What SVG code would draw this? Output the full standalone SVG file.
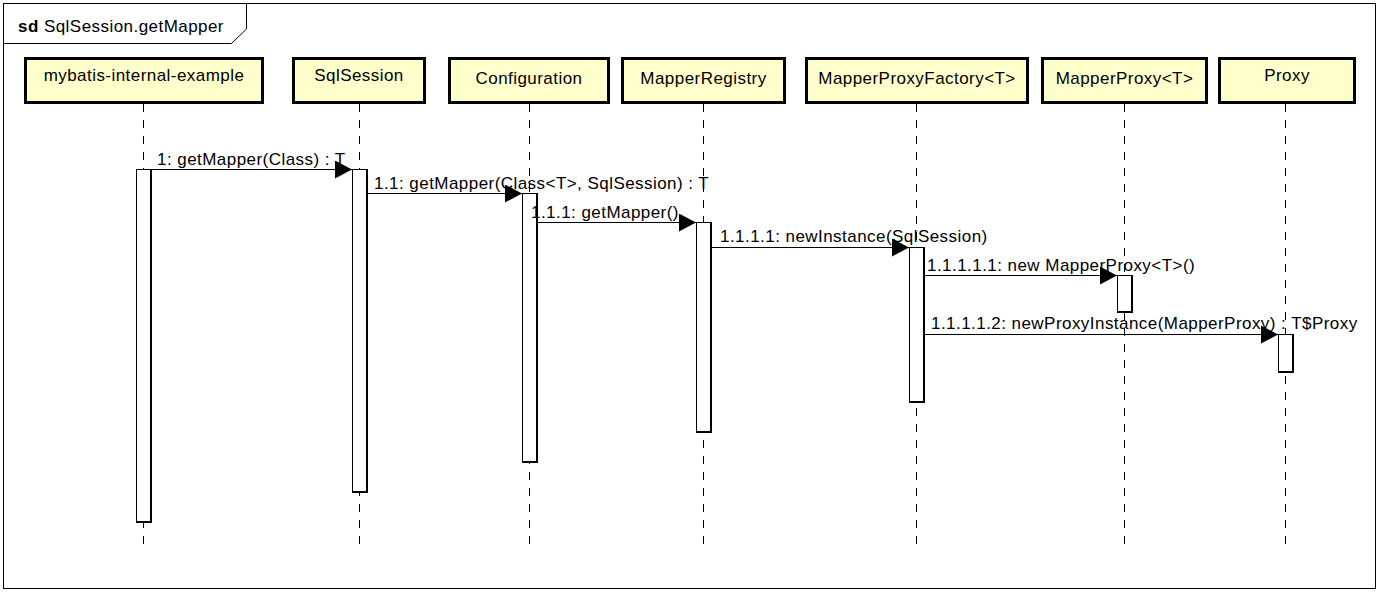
<svg xmlns="http://www.w3.org/2000/svg" width="1379" height="592" viewBox="0 0 1379 592">
<style>
text{font-family:"Liberation Sans",Arial,sans-serif;font-size:17px;letter-spacing:0.45px;fill:#000}
.head{fill:#FFFFCC;stroke:#000;stroke-width:3}
.life{stroke:#000;stroke-width:1;stroke-dasharray:8,8;fill:none}
.act{fill:#fff;stroke:#000;stroke-width:1}
.actsh{fill:none;stroke:#000;stroke-width:2}
.msg{stroke:#000;stroke-width:1;fill:none}
.lbl{text-anchor:middle}
</style>
<defs>
<marker id="arr" markerUnits="userSpaceOnUse" markerWidth="18" markerHeight="18" refX="17" refY="9" orient="auto">
<polygon points="0,0 17,9 0,18" fill="#000"/>
</marker>
</defs>
<rect x="0" y="0" width="1379" height="592" fill="#fff"/>
<g id="frame">
<rect x="3.5" y="3.5" width="1372" height="585" fill="none" stroke="#000" stroke-width="1"/>
<path d="M3.5,43.5 H231.5 L246.5,29 V3.5" fill="none" stroke="#000" stroke-width="1"/>
<text x="18" y="32"><tspan font-weight="bold">sd</tspan> SqlSession.getMapper</text>
</g>
<g id="lifelines">
<line class="life" x1="143.5" y1="104" x2="143.5" y2="545"/>
<line class="life" x1="359.5" y1="104" x2="359.5" y2="545"/>
<line class="life" x1="529.5" y1="104" x2="529.5" y2="545"/>
<line class="life" x1="703.5" y1="104" x2="703.5" y2="545"/>
<line class="life" x1="916.5" y1="104" x2="916.5" y2="545"/>
<line class="life" x1="1124.5" y1="104" x2="1124.5" y2="545"/>
<line class="life" x1="1285.5" y1="104" x2="1285.5" y2="545"/>
</g>
<g id="n1"><rect class="head" x="25.5" y="58.5" width="237" height="44"/><text class="lbl" x="144" y="81">mybatis-internal-example</text></g>
<g id="n2"><rect class="head" x="293.5" y="58.5" width="131" height="44"/><text class="lbl" x="359" y="81">SqlSession</text></g>
<g id="n3"><rect class="head" x="449.5" y="58.5" width="159" height="44"/><text class="lbl" x="529" y="84">Configuration</text></g>
<g id="n4"><rect class="head" x="622.5" y="58.5" width="162" height="44"/><text class="lbl" x="703.5" y="84">MapperRegistry</text></g>
<g id="n5"><rect class="head" x="806.5" y="58.5" width="221" height="44"/><text class="lbl" x="917" y="84">MapperProxyFactory&lt;T&gt;</text></g>
<g id="n6"><rect class="head" x="1042.5" y="58.5" width="164" height="44"/><text class="lbl" x="1124.5" y="84">MapperProxy&lt;T&gt;</text></g>
<g id="n7"><rect class="head" x="1219.5" y="58.5" width="135" height="44"/><text class="lbl" x="1287" y="81">Proxy</text></g>
<g id="activations">
<rect class="act" x="136.5" y="169.5" width="14" height="352"/><path class="actsh" d="M151,169 V522 H136"/>
<rect class="act" x="352.5" y="169.5" width="14" height="322"/><path class="actsh" d="M367,169 V492 H352"/>
<rect class="act" x="522.5" y="193.5" width="14" height="268"/><path class="actsh" d="M537,193 V462 H522"/>
<rect class="act" x="696.5" y="222.5" width="14" height="209"/><path class="actsh" d="M711,222 V432 H696"/>
<rect class="act" x="909.5" y="247.5" width="14" height="154"/><path class="actsh" d="M924,247 V402 H909"/>
<rect class="act" x="1117.5" y="275.5" width="14" height="36"/><path class="actsh" d="M1132,275 V312 H1117"/>
<rect class="act" x="1278.5" y="334.5" width="14" height="37"/><path class="actsh" d="M1293,334 V372 H1278"/>
</g>
<g id="connectors">
<line class="msg" x1="152" y1="169.5" x2="352" y2="169.5" marker-end="url(#arr)"/>
<line class="msg" x1="368" y1="193.5" x2="522" y2="193.5" marker-end="url(#arr)"/>
<line class="msg" x1="538" y1="222.5" x2="696" y2="222.5" marker-end="url(#arr)"/>
<line class="msg" x1="712" y1="247.5" x2="909" y2="247.5" marker-end="url(#arr)"/>
<line class="msg" x1="925" y1="275.5" x2="1117" y2="275.5" marker-end="url(#arr)"/>
<line class="msg" x1="925" y1="334.5" x2="1278" y2="334.5" marker-end="url(#arr)"/>
<text x="157" y="165">1: getMapper(Class) : T</text>
<text x="374" y="189">1.1: getMapper(Class&lt;T&gt;, SqlSession) : T</text>
<text x="531" y="218">1.1.1: getMapper()</text>
<text x="720" y="242">1.1.1.1: newInstance(SqlSession)</text>
<text x="927" y="271">1.1.1.1.1: new MapperProxy&lt;T&gt;()</text>
<text x="931" y="329">1.1.1.1.2: newProxyInstance(MapperProxy) : T$Proxy</text>
</g>
</svg>
